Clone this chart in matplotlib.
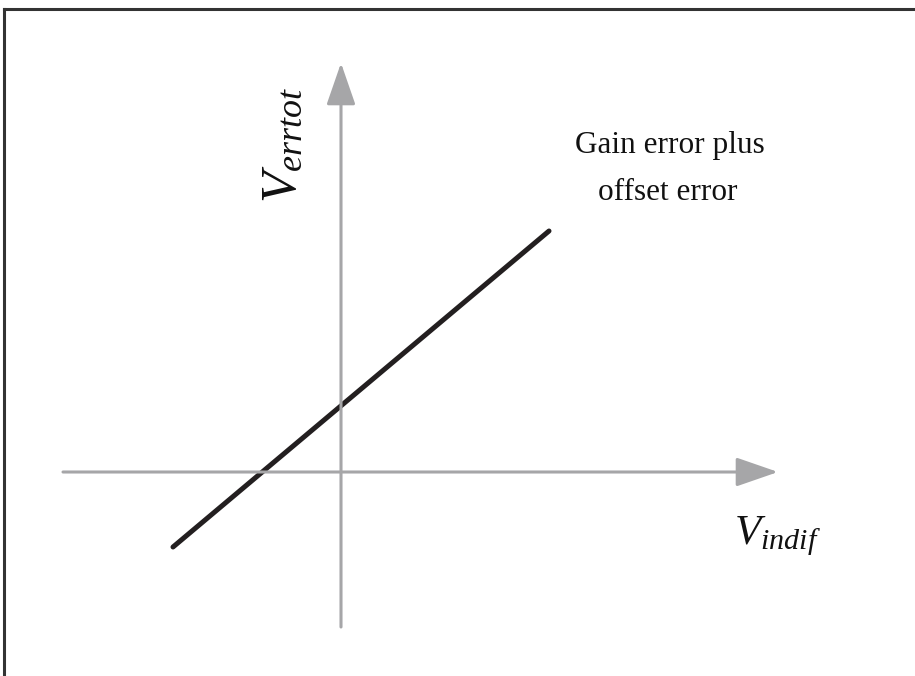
import matplotlib
matplotlib.use("Agg")
import matplotlib.pyplot as plt
from matplotlib.lines import Line2D

# data (units: arbitrary, origin at axis crossing)
line_x = [-1.68, 2.08]
line_y = [-0.75, 2.41]
xaxis_range = [-2.78, 4.37]
yaxis_range = [-1.55, 4.09]
title_lines = ["Gain error plus", "offset error"]

plt.rcParams['mathtext.fontset'] = 'custom'
plt.rcParams['mathtext.it'] = 'Liberation Serif:italic'
plt.rcParams['mathtext.rm'] = 'Liberation Serif'

fig = plt.figure(figsize=(9.15, 6.76), dpi=100)
ax = fig.add_axes([0, 0, 1, 1])
ax.set_xlim(-3.41, 5.74)
ax.set_ylim(-2.04, 4.72)
ax.axis('off')

gray = '#a6a6a8'
# x axis
ax.annotate('', xy=(xaxis_range[1], 0), xytext=(xaxis_range[0], 0),
            arrowprops=dict(arrowstyle='-|>,head_length=2.6,head_width=0.9',
                            mutation_scale=10, lw=2.2, color=gray,
                            shrinkA=0, shrinkB=0))
# y axis
ax.annotate('', xy=(0, yaxis_range[1]), xytext=(0, yaxis_range[0]),
            arrowprops=dict(arrowstyle='-|>,head_length=2.6,head_width=0.9',
                            mutation_scale=10, lw=2.2, color=gray,
                            shrinkA=0, shrinkB=0))

ax.plot(line_x, line_y, color='#231f20', lw=3.6, solid_capstyle='round')

ax.text(3.29, 3.27, title_lines[0], ha='center', va='center',
        fontsize=22.5, family='Liberation Serif', color='#111111')
ax.text(3.27, 2.79, title_lines[1], ha='center', va='center',
        fontsize=22.5, family='Liberation Serif', color='#111111')

ax.text(-0.59, 3.27, r'$V_{errtot}$', rotation=90, ha='center', va='center',
        fontsize=37, color='#111111')
ax.text(4.36, -0.64, r'$V_{indif}$', ha='center', va='center',
        fontsize=31, color='#111111')

# partial border (top and left)
fig.add_artist(Line2D([4/915, 1.0], [1 - 9/676, 1 - 9/676], color='#333333', lw=2.2,
                      transform=fig.transFigure))
fig.add_artist(Line2D([4/915, 4/915], [0, 1 - 9/676], color='#333333', lw=2.2,
                      transform=fig.transFigure))

fig.savefig('out.png', dpi=100)
